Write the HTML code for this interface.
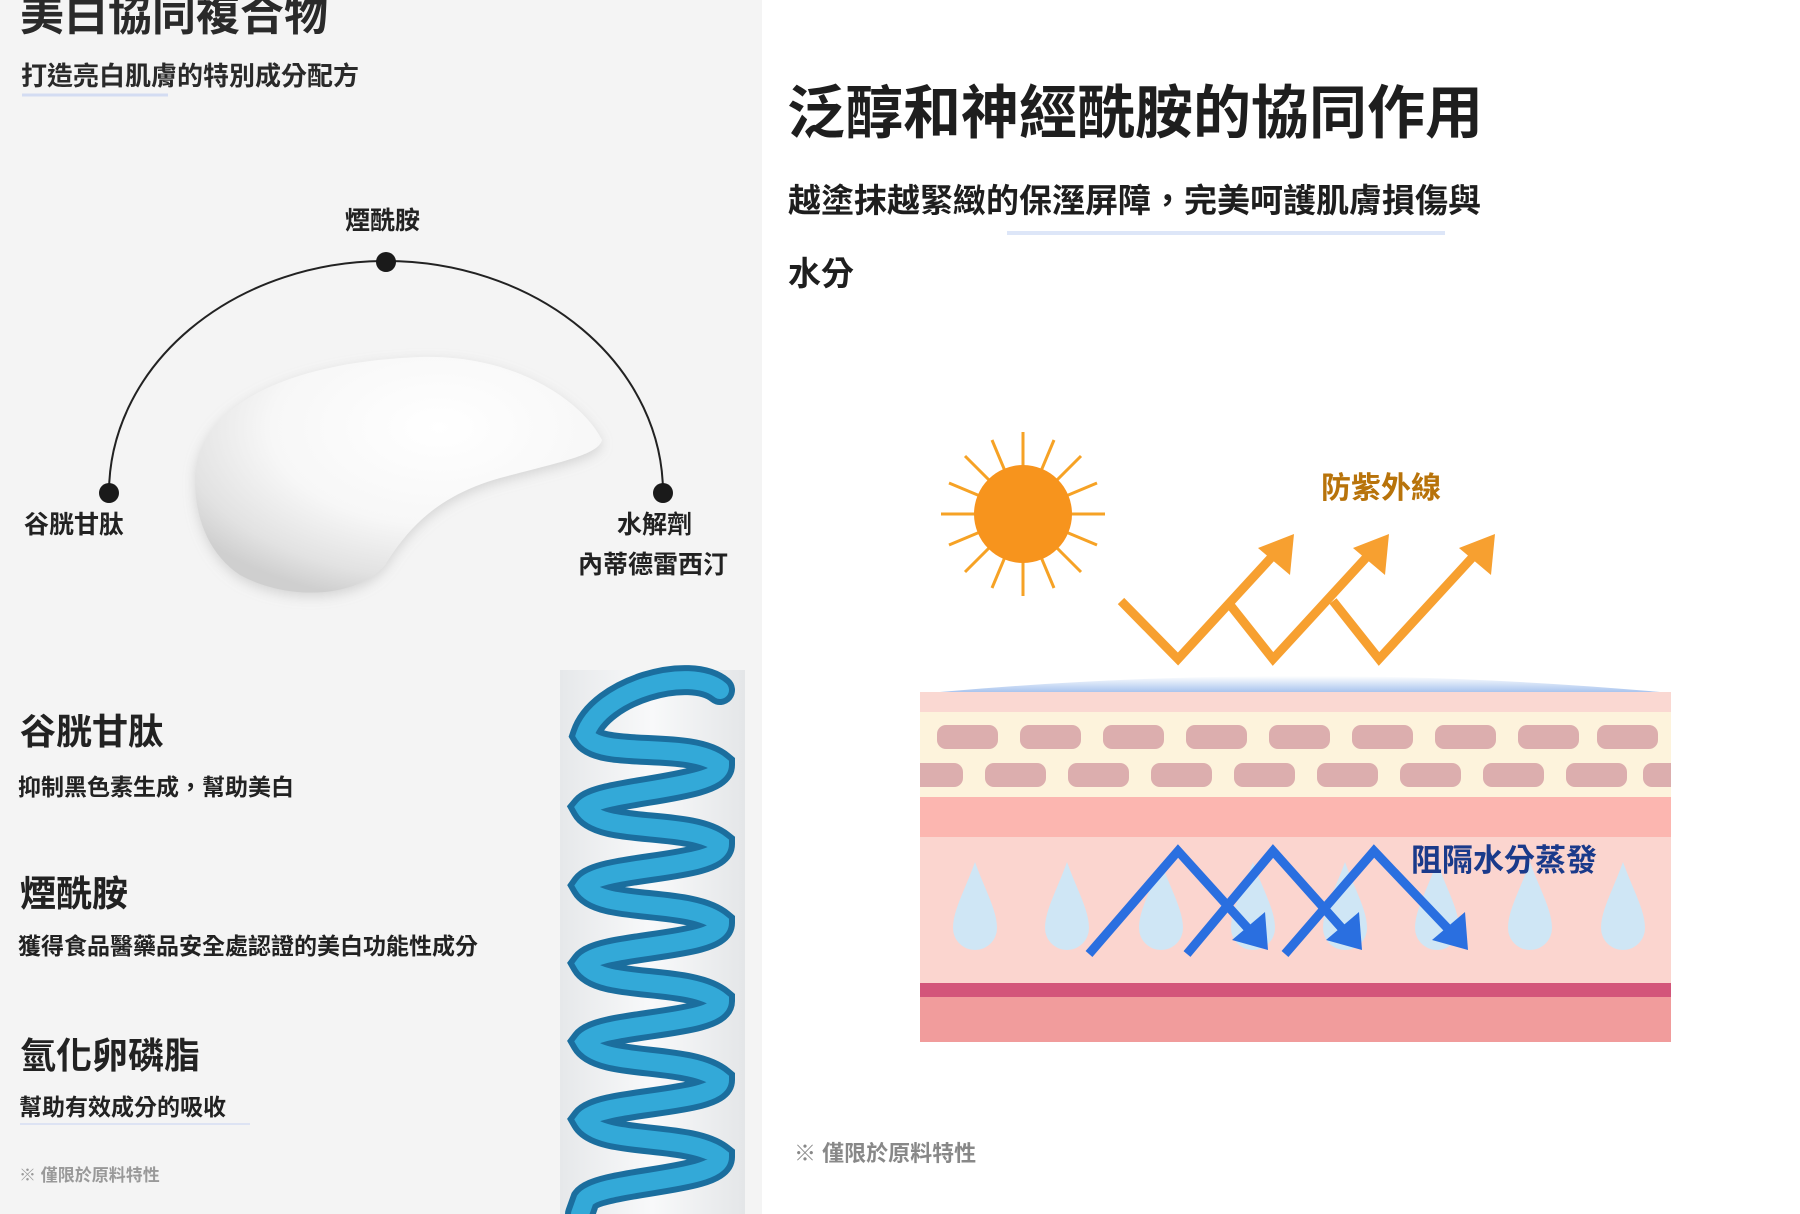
<!DOCTYPE html>
<html><head><meta charset="utf-8">
<style>
html,body{margin:0;padding:0}
body{width:1800px;height:1214px;position:relative;overflow:hidden;background:#fff;font-family:"Liberation Sans","Noto Sans CJK TC",sans-serif;font-weight:bold;color:#222}
.t{position:absolute;white-space:nowrap;line-height:1}
#left{position:absolute;left:0;top:0;width:762px;height:1214px;background:#f4f4f4}
</style></head><body>
<div id="left"></div>
<svg style="position:absolute;left:0;top:0" width="1800" height="1214">
<defs>
<radialGradient id="cream" cx="0.6" cy="0.3" r="0.75"><stop offset="0" stop-color="#ffffff"/><stop offset="0.55" stop-color="#f7f7f7"/><stop offset="0.85" stop-color="#e2e2e2"/><stop offset="1" stop-color="#cfcfcf"/></radialGradient>
<filter id="sh" x="-20%" y="-20%" width="140%" height="140%"><feDropShadow dx="0" dy="4" stdDeviation="6" flood-color="#999" flood-opacity="0.35"/></filter>
<linearGradient id="tube" x1="0" x2="1"><stop offset="0" stop-color="#e6e8ea"/><stop offset="0.5" stop-color="#f8f9fa"/><stop offset="1" stop-color="#e4e6e8"/></linearGradient>
<linearGradient id="arc" x1="0" y1="0" x2="0" y2="1"><stop offset="0" stop-color="#fff"/><stop offset="1" stop-color="#a9c4ee"/></linearGradient>
<clipPath id="box"><rect x="920" y="692" width="751" height="350"/></clipPath>
</defs>
<path d="M195,480 C195,405 290,362 420,357 C520,354 585,405 602,440 C598,455 560,462 500,478 C440,495 410,525 385,565 C355,600 285,600 240,575 C210,555 195,520 195,480 Z" fill="url(#cream)" filter="url(#sh)"/>
<path d="M109,493 A277,232 0 0 1 663,493" fill="none" stroke="#222" stroke-width="2"/>
<circle cx="386" cy="262" r="10" fill="#1a1a1a"/>
<circle cx="109" cy="493" r="10" fill="#1a1a1a"/>
<circle cx="663" cy="493" r="10" fill="#1a1a1a"/>
<line x1="22" y1="95" x2="168" y2="95" stroke="#d3dcf2" stroke-width="3"/>
<line x1="20" y1="1124" x2="250" y2="1124" stroke="#dde3f3" stroke-width="2"/>
<rect x="560" y="670" width="185" height="544" fill="url(#tube)"/>
<g fill="none" stroke-linecap="round">
<path d="M720,690 C690,665 600,690 585,735 C600,760 690,740 720,765 C720,790 600,790 585,808 C600,835 690,820 720,844 C720,870 600,865 585,886 C600,912 690,898 720,923 C720,948 600,944 585,964 C600,990 690,976 720,1001 C720,1026 600,1022 585,1042 C600,1068 690,1055 720,1080 C720,1104 600,1100 585,1120 C600,1146 690,1133 720,1157 C720,1182 600,1180 585,1200 L580,1214" stroke="#1b6e9e" stroke-width="30"/>
<path d="M720,690 C690,665 600,690 585,735 C600,760 690,740 720,765 C720,790 600,790 585,808 C600,835 690,820 720,844 C720,870 600,865 585,886 C600,912 690,898 720,923 C720,948 600,944 585,964 C600,990 690,976 720,1001 C720,1026 600,1022 585,1042 C600,1068 690,1055 720,1080 C720,1104 600,1100 585,1120 C600,1146 690,1133 720,1157 C720,1182 600,1180 585,1200 L580,1214" stroke="#33a9d8" stroke-width="18"/>
</g>
<g stroke="#f6a225" stroke-width="3">
<line x1="1023" y1="432" x2="1023" y2="596"/><line x1="941" y1="514" x2="1105" y2="514"/>
<line x1="965" y1="456" x2="1081" y2="572"/><line x1="965" y1="572" x2="1081" y2="456"/>
<line x1="992" y1="440" x2="1054" y2="588"/><line x1="1054" y1="440" x2="992" y2="588"/>
<line x1="949" y1="483" x2="1097" y2="545"/><line x1="949" y1="545" x2="1097" y2="483"/>
</g>
<circle cx="1023" cy="514" r="49" fill="#f7941d"/>
<path d="M940,692 Q1300,660 1660,692 Z" fill="url(#arc)"/>
<g clip-path="url(#box)">
<rect x="920" y="692" width="751" height="350" fill="#fbd5cf"/>
<rect x="920" y="692" width="751" height="20" fill="#fad8d2"/>
<rect x="920" y="712" width="751" height="85" fill="#fdf3dc"/>
<rect x="920" y="797" width="751" height="40" fill="#fcb6b0"/>
<rect x="920" y="983" width="751" height="14" fill="#d3557a"/>
<rect x="920" y="997" width="751" height="45" fill="#f19c9c"/>
<g fill="#dcaeae">
<rect x="937" y="725" width="61" height="24" rx="9"/><rect x="1020" y="725" width="61" height="24" rx="9"/><rect x="1103" y="725" width="61" height="24" rx="9"/><rect x="1186" y="725" width="61" height="24" rx="9"/><rect x="1269" y="725" width="61" height="24" rx="9"/><rect x="1352" y="725" width="61" height="24" rx="9"/><rect x="1435" y="725" width="61" height="24" rx="9"/><rect x="1518" y="725" width="61" height="24" rx="9"/><rect x="1597" y="725" width="61" height="24" rx="9"/>
<rect x="905" y="763" width="58" height="24" rx="9"/><rect x="985" y="763" width="61" height="24" rx="9"/><rect x="1068" y="763" width="61" height="24" rx="9"/><rect x="1151" y="763" width="61" height="24" rx="9"/><rect x="1234" y="763" width="61" height="24" rx="9"/><rect x="1317" y="763" width="61" height="24" rx="9"/><rect x="1400" y="763" width="61" height="24" rx="9"/><rect x="1483" y="763" width="61" height="24" rx="9"/><rect x="1566" y="763" width="61" height="24" rx="9"/><rect x="1643" y="763" width="58" height="24" rx="9"/>
</g>
<g fill="#cfe6f5">
<path d="M975,862 C985,890 997,910 997,928 A22,22 0 0 1 953,928 C953,910 965,890 975,862 Z"/>
<path d="M1067,862 C1077,890 1089,910 1089,928 A22,22 0 0 1 1045,928 C1045,910 1057,890 1067,862 Z"/>
<path d="M1161,862 C1171,890 1183,910 1183,928 A22,22 0 0 1 1139,928 C1139,910 1151,890 1161,862 Z"/>
<path d="M1253,862 C1263,890 1275,910 1275,928 A22,22 0 0 1 1231,928 C1231,910 1243,890 1253,862 Z"/>
<path d="M1345,862 C1355,890 1367,910 1367,928 A22,22 0 0 1 1323,928 C1323,910 1335,890 1345,862 Z"/>
<path d="M1437,862 C1447,890 1459,910 1459,928 A22,22 0 0 1 1415,928 C1415,910 1427,890 1437,862 Z"/>
<path d="M1530,862 C1540,890 1552,910 1552,928 A22,22 0 0 1 1508,928 C1508,910 1520,890 1530,862 Z"/>
<path d="M1623,862 C1633,890 1645,910 1645,928 A22,22 0 0 1 1601,928 C1601,910 1613,890 1623,862 Z"/>
</g>
</g>
<g fill="none" stroke="#f7a030" stroke-width="9">
<polyline points="1121,601 1178,659 1280,548"/><polyline points="1227,601 1273,659 1375,548"/><polyline points="1333,601 1379,659 1481,548"/>
</g>
<g fill="#f7a030">
<polygon points="1294,534 1290,575 1258,548"/><polygon points="1389,534 1385,575 1353,548"/><polygon points="1495,534 1491,575 1459,548"/>
</g>
<g fill="none" stroke="#2a6fe0" stroke-width="9">
<polyline points="1089,954 1178,851 1253,934"/><polyline points="1187,954 1273,851 1347,934"/><polyline points="1285,954 1374,851 1453,934"/>
</g>
<g fill="#2a6fe0">
<polygon points="1268,950 1265,912 1232,940"/><polygon points="1362,950 1359,912 1326,940"/><polygon points="1468,950 1465,912 1432,940"/>
</g>
<line x1="1007" y1="233" x2="1445" y2="233" stroke="#dde6f8" stroke-width="4"/>
</svg>

<div class="t" style="left:20px;top:-6px;font-size:44px;color:#2a2a2a">美白協同複合物</div>
<div class="t" style="left:21px;top:63px;font-size:26px;color:#2a2a2a">打造亮白肌膚的特別成分配方</div>
<div class="t" style="left:345px;top:209px;font-size:25px">煙酰胺</div>
<div class="t" style="left:24px;top:513px;font-size:25px">谷胱甘肽</div>
<div class="t" style="left:617px;top:513px;font-size:25px">水解劑</div>
<div class="t" style="left:578px;top:553px;font-size:25px">內蒂德雷西汀</div>
<div class="t" style="left:20px;top:714px;font-size:36px">谷胱甘肽</div>
<div class="t" style="left:18px;top:776px;font-size:23px">抑制黑色素生成，幫助美白</div>
<div class="t" style="left:20px;top:876px;font-size:36px">煙酰胺</div>
<div class="t" style="left:18px;top:935px;font-size:23px">獲得食品醫藥品安全處認證的美白功能性成分</div>
<div class="t" style="left:20px;top:1038px;font-size:36px">氫化卵磷脂</div>
<div class="t" style="left:19px;top:1096px;font-size:23px">幫助有效成分的吸收</div>
<div class="t" style="left:19px;top:1167px;font-size:17px;color:#999">※ 僅限於原料特性</div>

<div class="t" style="left:787px;top:85px;font-size:58px;color:#1e1e1e">泛醇和神經酰胺的協同作用</div>
<div class="t" style="left:788px;top:184px;font-size:33px;color:#1e1e1e">越塗抹越緊緻的保溼屏障，完美呵護肌膚損傷與</div>
<div class="t" style="left:788px;top:257px;font-size:33px;color:#1e1e1e">水分</div>
<div class="t" style="left:1321px;top:474px;font-size:30px;color:#b8730a">防紫外線</div>
<div class="t" style="left:1411px;top:845px;font-size:31px;color:#1a3a8a">阻隔水分蒸發</div>
<div class="t" style="left:794px;top:1143px;font-size:22px;color:#888">※ 僅限於原料特性</div>
</body></html>
